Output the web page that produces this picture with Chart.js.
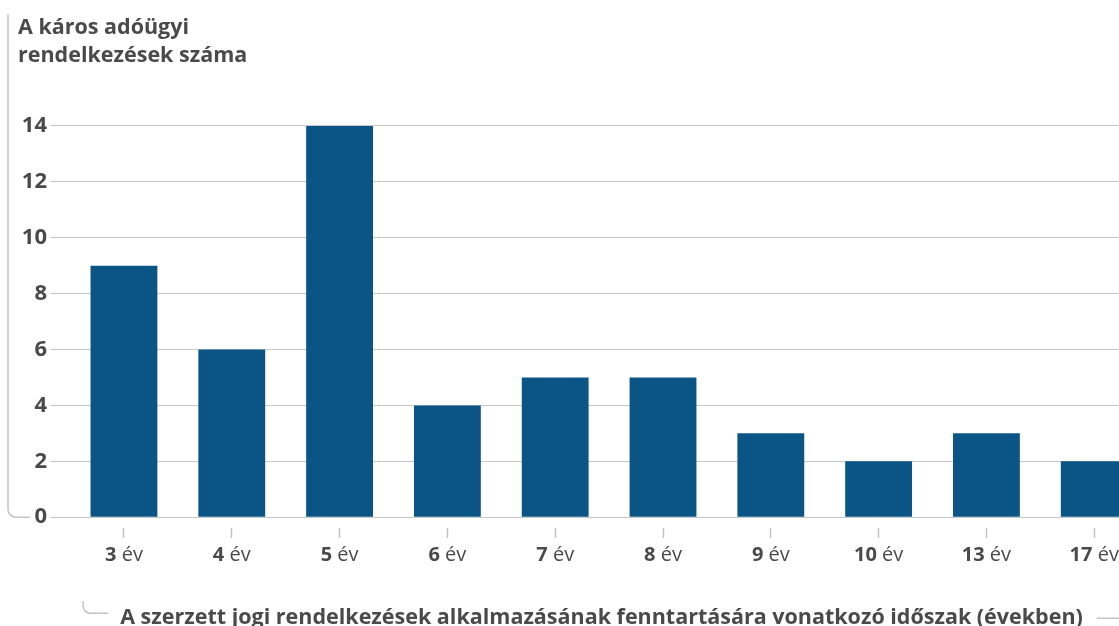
<!DOCTYPE html>
<html lang="hu">
<head>
<meta charset="utf-8">
<script src="https://cdn.jsdelivr.net/npm/chart.js@4.4.1/dist/chart.umd.min.js"></script>
<style>
  html, body { margin: 0; padding: 0; overflow: hidden; background: #fff; }
  #wrap { position: relative; width: 1153px; height: 637px; }
</style>
</head>
<body>
<div id="wrap"><canvas id="chart"></canvas></div>
<script>
const years = [3, 4, 5, 6, 7, 8, 9, 10, 13, 17];
const yearUnit = 'év';
const counts = [9, 6, 14, 4, 5, 5, 3, 2, 3, 2];
const yTicks = [0, 2, 4, 6, 8, 10, 12, 14];
const yTitle = ['A káros adóügyi', 'rendelkezések száma'];
const xTitle = 'A szerzett jogi rendelkezések alkalmazásának fenntartására vonatkozó időszak (években)';

const FONT = 'Open Sans';
const TEXT = '#4a4a4a';
const LINE = '#c4c4c4';

// bold number + normal unit under each bar, plus the bracket lines
const decorPlugin = {
    id: 'decor',
    afterDraw(chart) {
        const { ctx, chartArea } = chart;
        const x = chart.scales.x;
        ctx.save();
        ctx.textBaseline = 'middle';
        ctx.fillStyle = TEXT;
        const ly = chartArea.bottom + 38;
        years.forEach((yr, i) => {
            const px = x.getPixelForValue(i);
            const num = String(yr);
            const unit = ' ' + yearUnit;
            ctx.font = 'bold 20px ' + FONT;
            const nw = ctx.measureText(num).width;
            ctx.font = '20px ' + FONT;
            const uw = ctx.measureText(unit).width;
            const left = px - (nw + uw) / 2;
            ctx.font = 'bold 20px ' + FONT;
            ctx.textAlign = 'left';
            ctx.fillText(num, left, ly);
            ctx.font = '20px ' + FONT;
            ctx.fillText(unit, left + nw, ly);
        });

        ctx.strokeStyle = LINE;
        ctx.lineWidth = 1.5;
        // left bracket
        ctx.beginPath();
        ctx.moveTo(8, 14);
        ctx.arcTo(8, chartArea.bottom, 30, chartArea.bottom, 8);
        ctx.lineTo(30, chartArea.bottom);
        ctx.stroke();

        // bottom bracket around the axis title
        ctx.font = 'bold 21.5px ' + FONT;
        const tw = ctx.measureText(xTitle).width;
        const cx = (x.left + x.right) / 2;
        const ty = chartArea.bottom + 98;
        const tl = cx - tw / 2;
        const tr = cx + tw / 2;
        ctx.beginPath();
        ctx.moveTo(tl - 37, ty - 14);
        ctx.arcTo(tl - 37, ty - 2, tl - 25, ty - 2, 7);
        ctx.lineTo(tl - 12, ty - 2);
        ctx.stroke();
        ctx.beginPath();
        ctx.moveTo(tr + 14, ty + 3);
        ctx.lineTo(chart.width, ty + 3);
        ctx.stroke();
        ctx.restore();
    }
};

new Chart(document.getElementById('chart').getContext('2d'), {
    type: 'bar',
    data: {
        datasets: [{
            data: counts.map((v, i) => ({ x: i, y: v })),
            backgroundColor: '#0b5486',
            borderWidth: 0,
            categoryPercentage: 1,
            barPercentage: 0.62
        }]
    },
    options: {
        responsive: true,
        maintainAspectRatio: false,
        animation: false,
        layout: {
            padding: { left: 18, top: 14, right: 0, bottom: 0 }
        },
        scales: {
            x: {
                type: 'linear',
                min: -0.686,
                max: 9.545,
                offset: false,
                afterBuildTicks: s => { s.ticks = years.map((_, i) => ({ value: i })); },
                border: { display: false },
                grid: {
                    offset: false,
                    drawOnChartArea: false,
                    drawTicks: true,
                    tickLength: 21,
                    tickBorderDash: [10, 11],
                    tickBorderDashOffset: 10,
                    tickColor: LINE,
                    tickWidth: 1.5
                },
                ticks: {
                    color: 'rgba(0,0,0,0)',
                    font: { family: FONT, size: 20 },
                    padding: 6,
                    maxRotation: 0,
                    autoSkip: false,
                    callback: v => years[v] + ' ' + yearUnit
                },
                title: {
                    display: true,
                    text: xTitle,
                    color: TEXT,
                    font: { family: FONT, size: 21.5, weight: 'bold' },
                    padding: { top: 31, bottom: 6 }
                }
            },
            y: {
                min: 0,
                max: 14,
                z: 1,
                afterBuildTicks: s => { s.ticks = yTicks.map(v => ({ value: v })); },
                afterFit: s => { s.width = 32; },
                border: { display: false },
                grid: {
                    color: 'rgba(0,0,0,0.22)',
                    lineWidth: 1,
                    drawTicks: false
                },
                ticks: {
                    color: TEXT,
                    padding: 3,
                    font: { family: FONT, size: 22, weight: 'bold' }
                }
            }
        },
        plugins: {
            legend: { display: false },
            tooltip: { enabled: false },
            title: {
                display: true,
                text: yTitle,
                align: 'start',
                color: TEXT,
                font: { family: FONT, size: 21.5, weight: 'bold', lineHeight: 1.3 },
                padding: { top: 0, bottom: 56 }
            }
        }
    },
    plugins: [decorPlugin]
});
</script>
</body>
</html>
